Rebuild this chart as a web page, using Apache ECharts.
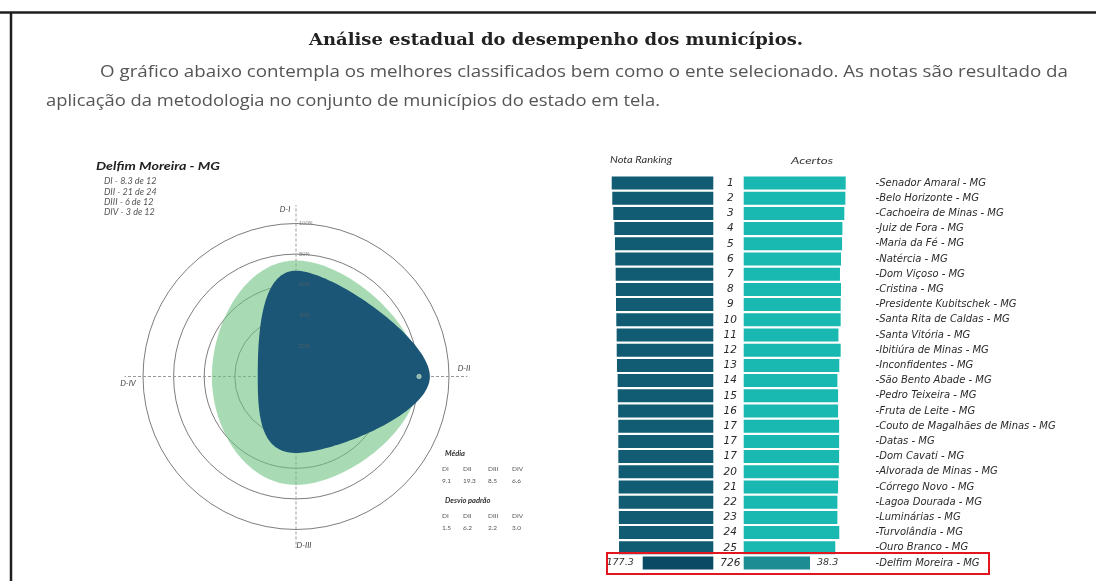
<!DOCTYPE html>
<html><head><meta charset="utf-8">
<script src="https://cdn.jsdelivr.net/npm/echarts@6/dist/echarts.min.js"></script>
<style>html,body{margin:0;padding:0;background:#fff}#c{width:1096px;height:581px}</style>
</head><body><div id="c"></div><script>
// ---------- data ----------
const names = ['Senador Amaral - MG','Belo Horizonte - MG','Cachoeira de Minas - MG','Juiz de Fora - MG','Maria da Fé - MG','Natércia - MG','Dom Viçoso - MG','Cristina - MG','Presidente Kubitschek - MG','Santa Rita de Caldas - MG','Santa Vitória - MG','Ibitiúra de Minas - MG','Inconfidentes - MG','São Bento Abade - MG','Pedro Teixeira - MG','Fruta de Leite - MG','Couto de Magalhães de Minas - MG','Datas - MG','Dom Cavati - MG','Alvorada de Minas - MG','Córrego Novo - MG','Lagoa Dourada - MG','Luminárias - MG','Turvolândia - MG','Ouro Branco - MG','Delfim Moreira - MG'];
const ranks = ['1','2','3','4','5','6','7','8','9','10','11','12','13','14','15','16','17','17','17','20','21','22','23','24','25','726'];
const notaRanking = [255.2,253.8,251.2,248.7,247.0,246.2,245.2,244.6,244.4,243.7,242.8,242.6,242.0,240.3,240.1,239.0,238.6,238.6,238.6,237.9,237.7,237.5,237.2,237.0,236.8,177.3];
const acertos = [58.9,58.7,58.1,57.0,56.8,56.2,55.6,56.2,56.0,56.0,54.7,56.0,55.2,54.1,54.5,54.5,55.1,55.1,55.1,54.9,54.5,54.1,54.1,55.2,52.9,38.3];

const dimNames = ['D-I','D-II','D-III','D-IV'];
const dimShort = ['DI','DII','DIII','DIV'];
const dimAngles = [0,90,180,270];
const maxQuestoes = [12,24,12,12];
const municipioAcertos = [8.3,21,6,3];
const mediaAcertos = [9.1,19.3,8.5,6.6];
const desvioPadrao = [1.5,6.2,2.2,3.0];
const radiusTicks = [20,40,60,80,100];
const municipioNome = 'Delfim Moreira - MG';

const titleText = 'Análise estadual do desempenho dos municípios.';
const para1 = 'O gráfico abaixo contempla os melhores classificados bem como o ente selecionado. As notas são resultado da';
const para2 = 'aplicação da metodologia no conjunto de municípios do estado em tela.';

// ---------- helpers ----------
const mctx = document.createElement('canvas').getContext('2d');
function fitScale(text, font, target){ mctx.font = font; const w = mctx.measureText(text).width; return w ? target / w : 1; }
function txt(x, y, text, font, fill, align, target){
  const el = {type:'text', x:x, y:y, silent:true, z:10,
    style:{text:text, font:font, fill:fill||'#333', align:align||'left', verticalAlign:'middle'}};
  if (target) el.scaleX = fitScale(text, font, target);
  return el;
}
const pct = (arr) => arr.map((v,i)=> v / maxQuestoes[i] * 100);

// closed cardinal spline sampled into polygon points (pixel space)
function closedSpline(pts, k, steps){
  const n = pts.length, out = [];
  for (let i = 0; i < n; i++){
    const p0 = pts[(i-1+n)%n], p1 = pts[i], p2 = pts[(i+1)%n], p3 = pts[(i+2)%n];
    const c1 = [p1[0]+(p2[0]-p0[0])*k, p1[1]+(p2[1]-p0[1])*k];
    const c2 = [p2[0]-(p3[0]-p1[0])*k, p2[1]-(p3[1]-p1[1])*k];
    for (let s = 0; s < steps; s++){
      const t = s/steps, u = 1-t;
      const a = u*u*u, b = 3*u*u*t, c = 3*u*t*t, d = t*t*t;
      out.push([a*p1[0]+b*c1[0]+c*c2[0]+d*p2[0], a*p1[1]+b*c1[1]+c*c2[1]+d*p2[1]]);
    }
  }
  return out;
}

function shapeSeries(vals, fill, z, k){
  const p = pct(vals);
  return {
    type:'custom', coordinateSystem:'polar', z:z, silent:true,
    data: p.map((v,i)=>[v, dimAngles[i]]),
    renderItem: function(params, api){
      if (params.dataIndex !== 0) return null;
      const pts = p.map((v,i)=>{ const c = api.coord([v, dimAngles[i]]); return [c[0], c[1]]; });
      return {type:'polygon', shape:{points:closedSpline(pts, k, 48)}, style:{fill:fill}};
    }
  };
}

const last = names.length - 1;
const F = 'Lato, "Open Sans", sans-serif';

const graphics = [
  {type:'line', silent:true, shape:{x1:0,y1:12.5,x2:1096,y2:12.5}, style:{stroke:'#1e1e1e', lineWidth:2.5}},
  {type:'line', silent:true, shape:{x1:11,y1:12,x2:11,y2:581}, style:{stroke:'#1e1e1e', lineWidth:2.5}},
  txt(556, 40, titleText, 'bold 17.5px "DejaVu Serif", serif', '#222', 'center', 494),
  txt(100, 72, para1, '16.5px "Open Sans", sans-serif', '#555', 'left', 968),
  txt(46, 101, para2, '16.5px "Open Sans", sans-serif', '#555', 'left', 614),
  txt(96, 166, municipioNome, 'italic bold 11.5px ' + F, '#222', 'left', 124),
  txt(285, 209, dimNames[0], 'italic 8px ' + F, '#444', 'center'),
  txt(464, 368, dimNames[1], 'italic 8px ' + F, '#444', 'center'),
  txt(304, 545, dimNames[2], 'italic 8px ' + F, '#444', 'center'),
  txt(128, 383, dimNames[3], 'italic 8px ' + F, '#444', 'center'),
  txt(445, 454, 'Média', 'italic bold 7.5px ' + F, '#333', 'left'),
  txt(445, 501, 'Desvio padrão', 'italic bold 7.5px ' + F, '#333', 'left'),
  txt(610, 160, 'Nota Ranking', 'italic 9px ' + F, '#333', 'left', 62),
  txt(812, 161, 'Acertos', 'italic 9px ' + F, '#333', 'center', 42),
  {type:'rect', silent:true, z:20, shape:{x:607, y:553, width:382, height:21}, style:{fill:'none', stroke:'#e2161f', lineWidth:2}}
];
const tableX = [442, 463, 488, 512];
dimShort.forEach((d,i)=>{
  graphics.push(txt(104, 181.5 + i*10.3, d + ' - ' + municipioAcertos[i] + ' de ' + maxQuestoes[i], 'italic 9px ' + F, '#555', 'left'));
  graphics.push(txt(tableX[i], 469, d, '6.5px ' + F, '#555', 'left'));
  graphics.push(txt(tableX[i], 481, mediaAcertos[i].toFixed(1), '6.5px ' + F, '#555', 'left'));
  graphics.push(txt(tableX[i], 516, d, '6.5px ' + F, '#555', 'left'));
  graphics.push(txt(tableX[i], 528, desvioPadrao[i].toFixed(1), '6.5px ' + F, '#555', 'left'));
});

const labelStyle = {fontStyle:'italic', fontFamily:'DejaVu Sans', color:'#2a2a2a'};

const option = {
  animation:false,
  backgroundColor:'#fff',
  graphic: graphics,
  polar: {center:[296, 376.5], radius:153},
  angleAxis: {type:'value', min:0, max:360, interval:90, startAngle:90, clockwise:true,
    axisLine:{show:false}, axisTick:{show:false}, axisLabel:{show:false}, splitLine:{show:false}},
  radiusAxis: {type:'value', min:0, max:100, interval:20,
    axisLine:{show:false}, axisTick:{show:false}, axisLabel:{show:false},
    splitLine:{show:true, lineStyle:{color:'#5c5c5c', width:0.8}}},
  grid: [
    {left:609.8, top:175.4, width:103.5, height:395.2},
    {left:743.7, top:175.4, width:103.9, height:395.2}
  ],
  xAxis: [
    {gridIndex:0, type:'value', min:0, max:260, inverse:true, show:false},
    {gridIndex:1, type:'value', min:0, max:60, show:false}
  ],
  yAxis: [
    {gridIndex:0, type:'category', data:names, inverse:true, position:'right',
      axisLine:{show:false}, axisTick:{show:false},
      axisLabel:Object.assign({interval:0, formatter:(v,i)=>ranks[i], align:'center', margin:17, fontSize:10.5}, labelStyle)},
    {gridIndex:1, type:'category', data:names, inverse:true, position:'right',
      axisLine:{show:false}, axisTick:{show:false},
      axisLabel:Object.assign({interval:0, formatter:v=>'-' + v, align:'left', margin:28, fontSize:10}, labelStyle)}
  ],
  series: [
    {type:'custom', coordinateSystem:'polar', z:1, silent:true,
      data: dimAngles.map(a=>[112, a]),
      renderItem: function(params, api){
        const a = api.value(1);
        const p0 = api.coord([0, a]); const p1 = api.coord([112, a]);
        return {type:'line', shape:{x1:p0[0], y1:p0[1], x2:p1[0], y2:p1[1]},
          style:{stroke:'#9a9a9a', lineWidth:1, lineDash:[3,2]}};
      }},
    shapeSeries(mediaAcertos, 'rgba(110,195,130,0.6)', 2, 0.24),
    shapeSeries(municipioAcertos, '#1b5676', 3, 0.21),
    {type:'custom', coordinateSystem:'polar', z:4, silent:true,
      data: [[pct(mediaAcertos)[1], dimAngles[1]]],
      renderItem: function(params, api){
        const c = api.coord([api.value(0), api.value(1)]);
        return {type:'circle', shape:{cx:c[0], cy:c[1], r:2.2}, style:{fill:'#8fb8a8', stroke:'#c9e6d3', lineWidth:0.6}};
      }},
    {type:'custom', coordinateSystem:'polar', z:5, silent:true,
      data: radiusTicks.map(v=>[v, 0]),
      renderItem: function(params, api){
        const v = api.value(0);
        const c = api.coord([v, 0]);
        return {type:'text', x:c[0]+3, y:c[1], style:{text:v + '%', fontSize:5.5, fontFamily:'Lato',
          fill:'rgba(95,95,95,0.75)', align:'left', verticalAlign:'middle'}};
      }},
    {type:'bar', xAxisIndex:0, yAxisIndex:0, barWidth:13, silent:true,
      itemStyle:{color:'#115b73'},
      data: notaRanking.map((v,i)=> i === last ? {value:v, itemStyle:{color:'#0b4a65'},
        label:{show:true, position:'left', distance:9, formatter:v.toFixed(1), fontSize:9.5, fontStyle:'italic', fontFamily:'DejaVu Sans', color:'#333'}} : v)},
    {type:'bar', xAxisIndex:1, yAxisIndex:1, barWidth:13, silent:true,
      itemStyle:{color:'#19b9b1'},
      data: acertos.map((v,i)=> i === last ? {value:v, itemStyle:{color:'#1e8c93'},
        label:{show:true, position:'right', distance:7, formatter:v.toFixed(1), fontSize:9.5, fontStyle:'italic', fontFamily:'DejaVu Sans', color:'#333'}} : v)}
  ]
};
const chart = echarts.init(document.getElementById('c'), null, {renderer:'canvas'});
chart.setOption(option);
</script></body></html>
